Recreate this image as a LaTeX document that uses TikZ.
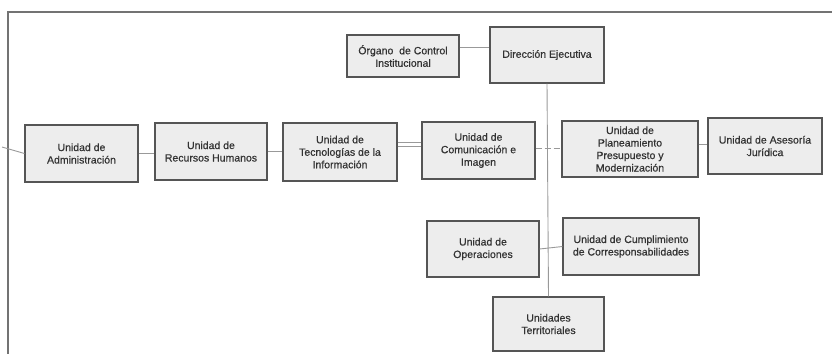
\documentclass[tikz,border=0pt]{standalone}
\usepackage{fontspec}
\setmainfont{Liberation Sans}
\newfontfamily\boxfont[FakeBold=0.6]{Liberation Sans}
\usetikzlibrary{shadows}
\definecolor{boxfill}{HTML}{EDEDED}
\definecolor{boxline}{HTML}{555555}
\definecolor{conn}{HTML}{999999}
\definecolor{txt}{HTML}{333333}
\begin{document}
\begin{tikzpicture}[x=1pt,y=-1pt,
  unit/.style={draw=boxline,fill=boxfill,line width=1.1pt,align=center,
    inner sep=2pt,text=txt,font=\boxfont\fontsize{10.5}{12.5}\selectfont,
    drop shadow={shadow xshift=0.6pt,shadow yshift=-1.4pt,opacity=0.45,fill=black!70}},
  link/.style={draw=conn,line width=0.9pt},
  frameline/.style={draw=black!55,line width=1.6pt}]
\useasboundingbox (0,0) rectangle (832,354);
% frame
\coordinate (ftr) at (832,12);
\coordinate (ftl) at (8,12);
\coordinate (fbl) at (8,354);
\draw[frameline] (ftr) -- (ftl) -- (fbl);
% nodes
\node[unit,minimum width=112pt,minimum height=42pt] (org) at (403,56) {Órgano\ \ de Control\\Institucional};
\node[unit,minimum width=114pt,minimum height=56pt] (dir) at (547,55) {Dirección Ejecutiva};
\node[unit,minimum width=113pt,minimum height=57pt] (adm) at (81.5,153.5) {Unidad de\\Administración};
\node[unit,minimum width=112pt,minimum height=57pt] (rrhh) at (211,151.5) {Unidad de\\Recursos Humanos};
\node[unit,minimum width=114pt,minimum height=58pt] (tec) at (340,152) {Unidad de\\Tecnologías de la\\Información};
\node[unit,minimum width=113pt,minimum height=57pt] (com) at (478.5,150.5) {Unidad de\\Comunicación e\\Imagen};
\node[unit,minimum width=136pt,minimum height=56pt] (plan) at (630,149) {Unidad de\\Planeamiento\\Presupuesto y\\Modernización};
\node[unit,minimum width=114pt,minimum height=56pt] (ases) at (765,146) {Unidad de Asesoría\\Jurídica};
\node[unit,minimum width=112pt,minimum height=56pt] (oper) at (483,249) {Unidad de\\Operaciones};
\node[unit,minimum width=136pt,minimum height=57pt] (cump) at (631,246.5) {Unidad de Cumplimiento\\de Corresponsabilidades};
\node[unit,minimum width=111pt,minimum height=54pt] (terr) at (548.5,324) {Unidades\\Territoriales};
% connectors
\coordinate (oy) at (0,47);
\draw[link] (org.east |- oy) -- (dir.west |- oy);
\draw[link] (dir.south) -- (terr.north);
\draw[link] (oper.east) -- (cump.west);
\draw[link] (adm.east) -- (rrhh.west |- adm.east);
\draw[link] (rrhh.east) -- (tec.west |- rrhh.east);
\coordinate (lf) at (2,147);
\draw[link] (lf) -- (adm.west);
% horizontal line through the upper row
\coordinate (y1) at (0,142);
\coordinate (y2) at (0,146);
\coordinate (y3) at (0,148);
\coordinate (y4) at (0,144);
\draw[link,line width=0.7pt] (tec.east |- y1) -- (com.west |- y1);
\draw[link,line width=0.7pt] (tec.east |- y2) -- (com.west |- y2);
\draw[link,dashed,dash pattern=on 6pt off 3pt] (com.east |- y3) -- (plan.west |- y3);
\draw[link] (plan.east |- y4) -- (ases.west |- y4);
\end{tikzpicture}
\end{document}
